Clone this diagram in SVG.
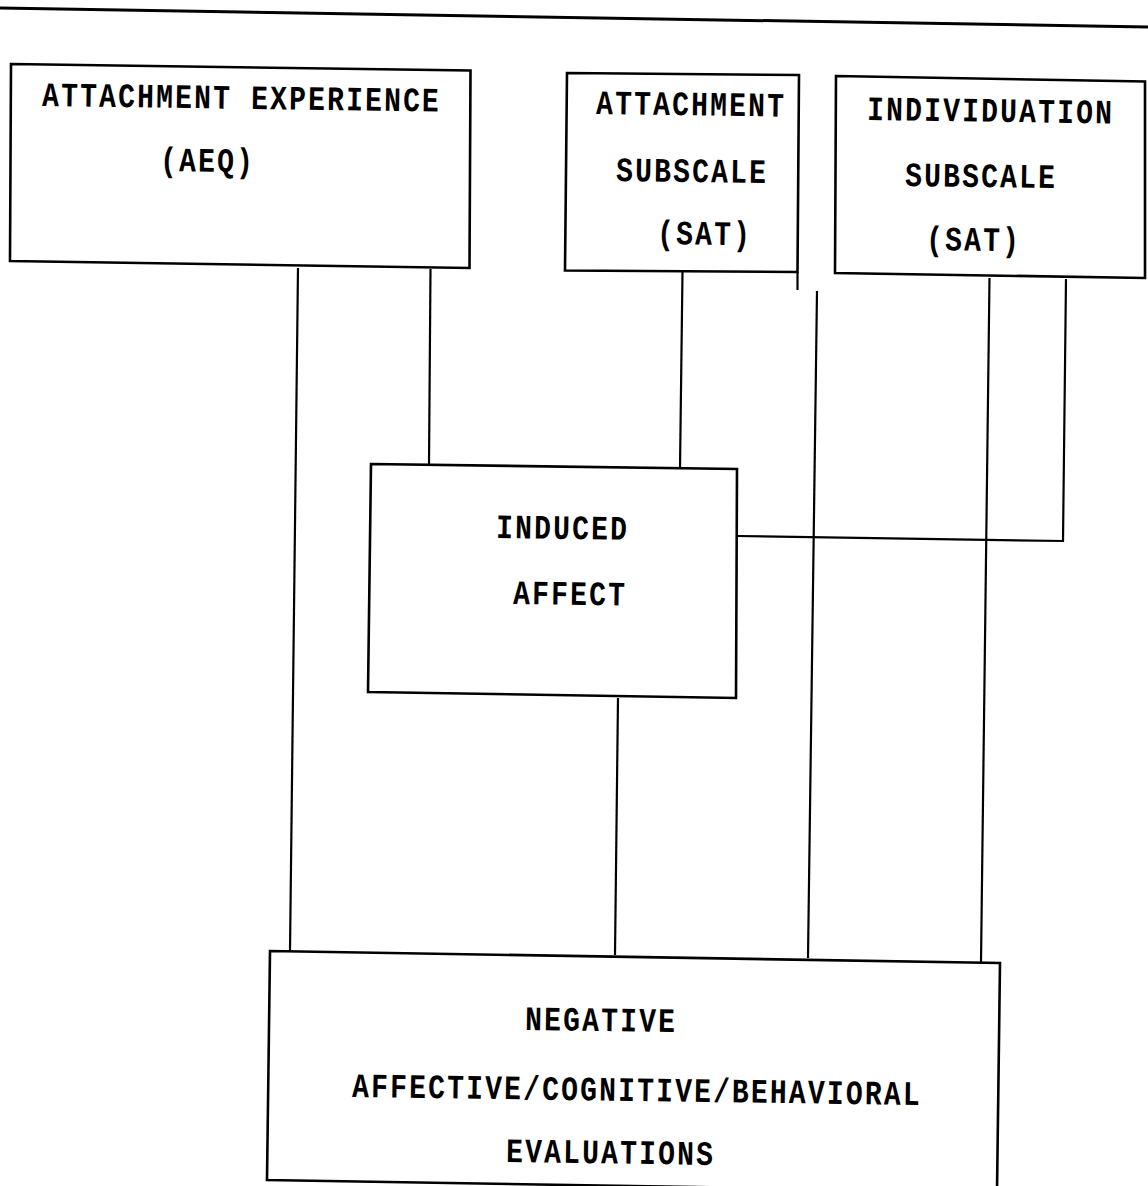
<svg xmlns="http://www.w3.org/2000/svg" width="1148" height="1186" viewBox="0 0 1148 1186">
<style>
.box{fill:#fff;stroke:#000;stroke-width:2.6;stroke-linejoin:miter}
.ln{fill:none;stroke:#000;stroke-width:2.2}
.t{font-family:"Liberation Mono","Courier New",monospace;font-size:28px;font-weight:bold;letter-spacing:2.2px;fill:#000}
</style>
<rect width="1148" height="1186" fill="#fff"/>
<line x1="0" y1="8" x2="1148" y2="27" stroke="#000" stroke-width="3"/>
<g id="connectors">
<line class="ln" x1="298" y1="268" x2="290" y2="951"/>
<line class="ln" x1="430.5" y1="269" x2="429" y2="464"/>
<line class="ln" x1="682.5" y1="272" x2="680" y2="468"/>
<line class="ln" x1="797.5" y1="272" x2="797.5" y2="290"/>
<line class="ln" x1="817" y1="291" x2="808" y2="958"/>
<line class="ln" x1="989.5" y1="278" x2="981" y2="962"/>
<path class="ln" d="M1066,279 L1063,541 L737,536"/>
<line class="ln" x1="618" y1="698" x2="615" y2="955"/>
</g>
<g id="aeq">
<polygon class="box" points="11,64 470.5,70.5 469.5,268 10,261"/>
<text class="t" transform="translate(42 106) rotate(0.8) scale(1 1.22)">ATTACHMENT EXPERIENCE</text>
<text class="t" transform="translate(160 171) rotate(0.8) scale(1 1.22)">(AEQ)</text>
</g>
<g id="attachment-subscale">
<polygon class="box" points="567,73 799,75 797.5,272 565,270.5"/>
<text class="t" transform="translate(596 114) rotate(0.8) scale(1 1.22)">ATTACHMENT</text>
<text class="t" transform="translate(616 181) rotate(0.8) scale(1 1.22)">SUBSCALE</text>
<text class="t" transform="translate(657 244) rotate(0.8) scale(1 1.22)">(SAT)</text>
</g>
<g id="individuation-subscale">
<polygon class="box" points="836,76 1145,81.5 1145,278 835,273"/>
<text class="t" transform="translate(867 120) rotate(0.8) scale(1 1.22)">INDIVIDUATION</text>
<text class="t" transform="translate(905 186) rotate(0.8) scale(1 1.22)">SUBSCALE</text>
<text class="t" transform="translate(926 250) rotate(0.8) scale(1 1.22)">(SAT)</text>
</g>
<g id="induced-affect">
<polygon class="box" points="371,464 737,469 736,698 368,692"/>
<text class="t" transform="translate(496 538) rotate(0.8) scale(1 1.22)">INDUCED</text>
<text class="t" transform="translate(513 604) rotate(0.8) scale(1 1.22)">AFFECT</text>
</g>
<g id="negative-evaluations">
<polygon class="box" points="270,951 1000,963 997,1192 267,1180"/>
<text class="t" transform="translate(525 1030) rotate(0.8) scale(1 1.22)">NEGATIVE</text>
<text class="t" transform="translate(352 1097) rotate(0.8) scale(1 1.22)">AFFECTIVE/COGNITIVE/BEHAVIORAL</text>
<text class="t" transform="translate(506 1162) rotate(0.8) scale(1 1.22)">EVALUATIONS</text>
</g>
</svg>
